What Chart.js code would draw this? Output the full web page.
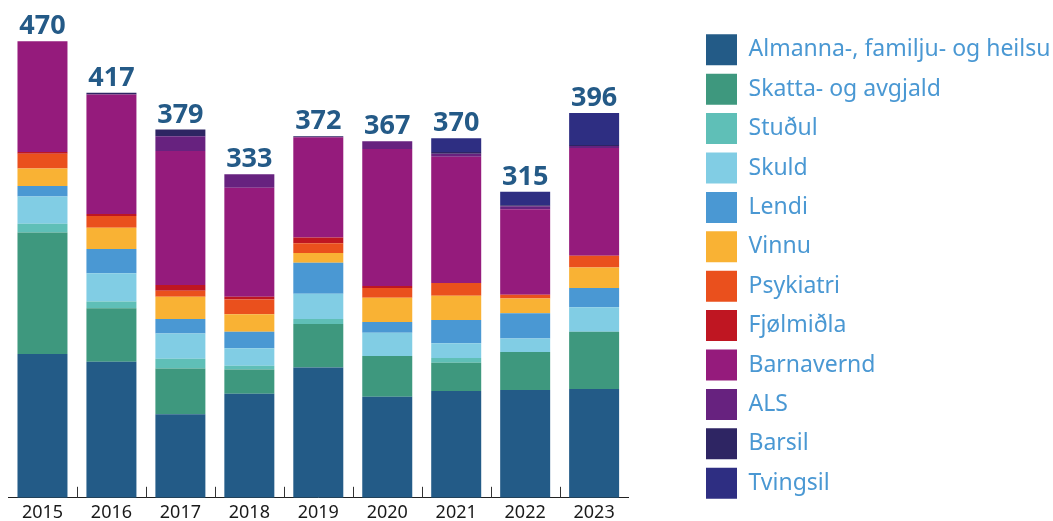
<!DOCTYPE html>
<html>
<head>
<meta charset="utf-8">
<script src="https://cdn.jsdelivr.net/npm/chart.js@4/dist/chart.umd.min.js"></script>
<style>
  html, body { margin: 0; padding: 0; background: #fff; overflow: hidden; }
  #wrap { position: relative; width: 1053px; height: 521px; }
</style>
</head>
<body>
<div id="wrap"><canvas id="chart"></canvas></div>
<script>
// values
const years = ['2015', '2016', '2017', '2018', '2019', '2020', '2021', '2022', '2023']
const totals = [470, 417, 379, 333, 372, 367, 370, 315, 396]

const almanna   = [148, 140, 86, 107, 134, 104, 110, 111, 112]
const skatta    = [125, 55, 47, 25, 45, 42, 29, 39, 59]
const studul    = [9, 7, 10, 4, 5, 0, 5, 0, 0]
const skuld     = [28, 29, 26, 18, 26, 24, 15, 14, 25]
const lendi     = [11, 25, 15, 17, 32, 11, 24, 26, 20]
const vinnu     = [18, 22, 23, 18, 10, 25, 25, 15, 21]
const psykiatri = [15, 12, 6, 15, 10, 10, 13, 4, 12]
const fjolmidla = [2, 2, 6, 3, 6, 2, 0, 0, 0]
const barnavernd = [114, 123, 138, 112, 103, 141, 130, 88, 111]
const als       = [0, 0, 15, 14, 0, 8, 3, 3, 2]
const barsil    = [0, 2, 7, 0, 1, 0, 2, 1, 1]
const tvingsil  = [0, 0, 0, 0, 0, 0, 14, 14, 33]

const seriesNames = ['Almanna-, familju- og heilsu', 'Skatta- og avgjald', 'Stuðul', 'Skuld', 'Lendi', 'Vinnu',
  'Psykiatri', 'Fjølmiðla', 'Barnavernd', 'ALS', 'Barsil', 'Tvingsil']
const seriesData = [almanna, skatta, studul, skuld, lendi, vinnu, psykiatri, fjolmidla, barnavernd, als, barsil, tvingsil]
const seriesColors = ['#235b87', '#3e987e', '#5fbfb7', '#81cde4', '#4a98d3', '#f9b234',
  '#ea501d', '#bf1622', '#951b7c', '#67227f', '#2e2563', '#2e2e82']

Chart.defaults.font.family = "'Noto Sans', sans-serif"

const datasets = []
for (let i = 0; i < seriesNames.length; i += 1) {
  datasets.push({
    label: seriesNames[i],
    data: seriesData[i],
    backgroundColor: seriesColors[i],
    borderWidth: 0,
    categoryPercentage: 1,
    barPercentage: 0.725
  })
}

// totals written above each stack
const totalLabels = {
  id: 'totalLabels',
  afterDatasetsDraw(chart) {
    const ctx = chart.ctx
    const yScale = chart.scales.y
    const meta = chart.getDatasetMeta(0)
    ctx.save()
    ctx.font = "bold 27px 'Noto Sans', sans-serif"
    ctx.fillStyle = '#245a87'
    ctx.textAlign = 'center'
    ctx.textBaseline = 'alphabetic'
    totals.forEach((t, i) => {
      ctx.fillText(String(t), meta.data[i].x, yScale.getPixelForValue(t) - 7)
    })
    ctx.restore()
  }
}

// small tick marks between the categories, pointing up from the axis
const upTicks = {
  id: 'upTicks',
  afterDraw(chart) {
    const ctx = chart.ctx
    const xs = chart.scales.x
    ctx.save()
    ctx.strokeStyle = '#333'
    ctx.lineWidth = 1
    ctx.beginPath()
    for (let i = 1; i < years.length; i += 1) {
      const x = Math.round((xs.getPixelForValue(i - 1) + xs.getPixelForValue(i)) / 2) + 0.5
      ctx.moveTo(x, xs.top)
      ctx.lineTo(x, xs.top - 11)
    }
    ctx.stroke()
    ctx.restore()
  }
}

new Chart(document.getElementById('chart'), {
  type: 'bar',
  data: { labels: years, datasets: datasets },
  options: {
    responsive: true,
    maintainAspectRatio: false,
    animation: false,
    layout: { padding: { left: 8, top: 12, right: 0, bottom: 0 } },
    plugins: {
      tooltip: { enabled: false },
      legend: {
        position: 'right',
        align: 'center',
        maxWidth: 355.4,
        labels: {
          boxWidth: 31,
          boxHeight: 31,
          padding: 8.4,
          color: '#4a98d3',
          font: { size: 23 }
        }
      }
    },
    scales: {
      x: {
        stacked: true,
        border: { display: true, color: '#222', width: 1 },
        grid: {
          drawOnChartArea: false,
          drawTicks: true,
          tickLength: 7,
          color: 'rgba(0,0,0,0)'
        },
        ticks: {
          color: '#1a1a1a',
          padding: 0,
          font: { size: 18, lineHeight: 0.9 }
        }
      },
      y: {
        stacked: true,
        position: 'right',
        min: 0,
        max: 500,
        border: { display: false },
        grid: { display: false },
        ticks: { display: false },
        afterFit: (s) => { s.width = 69 }
      }
    }
  },
  plugins: [totalLabels, upTicks]
})
</script>
</body>
</html>
